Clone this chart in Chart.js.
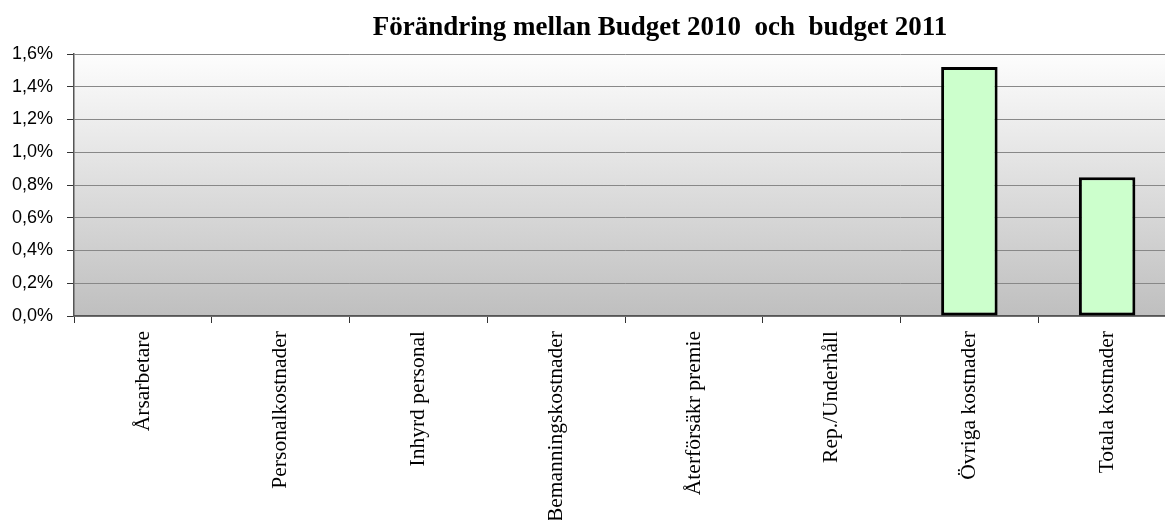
<!DOCTYPE html>
<html>
<head>
<meta charset="utf-8">
<script src="https://cdn.jsdelivr.net/npm/chart.js@4/dist/chart.umd.min.js"></script>
<style>
  html, body { margin: 0; padding: 0; background: #fff; overflow: hidden; }
  #wrap { width: 1320px; height: 540px; }
</style>
</head>
<body>
<div id="wrap"><canvas id="chart" width="1320" height="540"></canvas></div>
<script>
var categories = ['Årsarbetare', 'Personalkostnader', 'Inhyrd personal', 'Bemanningskostnader',
  'Återförsäkr premie', 'Rep./Underhåll', 'Övriga kostnader', 'Totala kostnader'];
var changePct = [0, 0, 0, 0, 0, 0, 1.52, 0.847];
var yTicks = [0, 0.2, 0.4, 0.6, 0.8, 1.0, 1.2, 1.4, 1.6];

// gradient plot background, grey at the bottom
var plotBackground = {
  id: 'plotBackground',
  beforeDraw: function (chart) {
    var a = chart.chartArea, ctx = chart.ctx;
    var g = ctx.createLinearGradient(0, a.top, 0, a.bottom);
    g.addColorStop(0, '#fdfdfd');
    g.addColorStop(1, '#bfbfbf');
    ctx.save();
    ctx.fillStyle = g;
    ctx.fillRect(a.left, a.top, a.right - a.left, a.bottom - a.top);
    ctx.restore();
  }
};

new Chart(document.getElementById('chart'), {
  type: 'bar',
  data: {
    labels: categories,
    datasets: [{
      data: changePct,
      backgroundColor: '#ccffcc',
      borderColor: '#000',
      borderWidth: 3,
      borderSkipped: false,
      categoryPercentage: 1,
      barPercentage: 0.41
    }]
  },
  options: {
    responsive: false,
    animation: false,
    layout: { padding: 0 },
    plugins: {
      legend: { display: false },
      tooltip: { enabled: false },
      title: {
        display: true,
        text: 'Förändring mellan Budget 2010  och  budget 2011',
        color: '#000',
        font: { family: 'Liberation Serif', size: 27, weight: 'bold' },
        padding: { top: 12.3, bottom: 9.3 }
      }
    },
    scales: {
      x: {
        afterFit: function (s) { s.height = 224; },
        grid: { display: true, drawOnChartArea: false, drawTicks: true, tickLength: 7, color: '#333', offset: true },
        border: { color: '#555', width: 1.5 },
        ticks: {
          autoSkip: false,
          minRotation: 90,
          maxRotation: 90,
          padding: 8,
          color: '#000',
          font: { family: 'Liberation Serif', size: 21.5 }
        }
      },
      y: {
        min: 0,
        max: 1.6,
        afterFit: function (s) { s.width = 74; },
        afterBuildTicks: function (s) { s.ticks = yTicks.map(function (v) { return { value: v }; }); },
        grid: { color: '#888', tickLength: 7, tickColor: '#333' },
        border: { color: '#555', width: 1.5 },
        ticks: {
          padding: 14,
          color: '#000',
          font: { family: 'Liberation Sans', size: 18 },
          callback: function (v) { return v.toFixed(1).replace('.', ',') + '%'; }
        }
      },
      // empty right axis: plot runs past the window edge, title stays centred on the canvas
      yRight: {
        position: 'right',
        display: true,
        afterFit: function (s) { s.width = 144; },
        grid: { display: false },
        border: { display: false },
        ticks: { display: false }
      }
    }
  },
  plugins: [plotBackground]
});
</script>
</body>
</html>
